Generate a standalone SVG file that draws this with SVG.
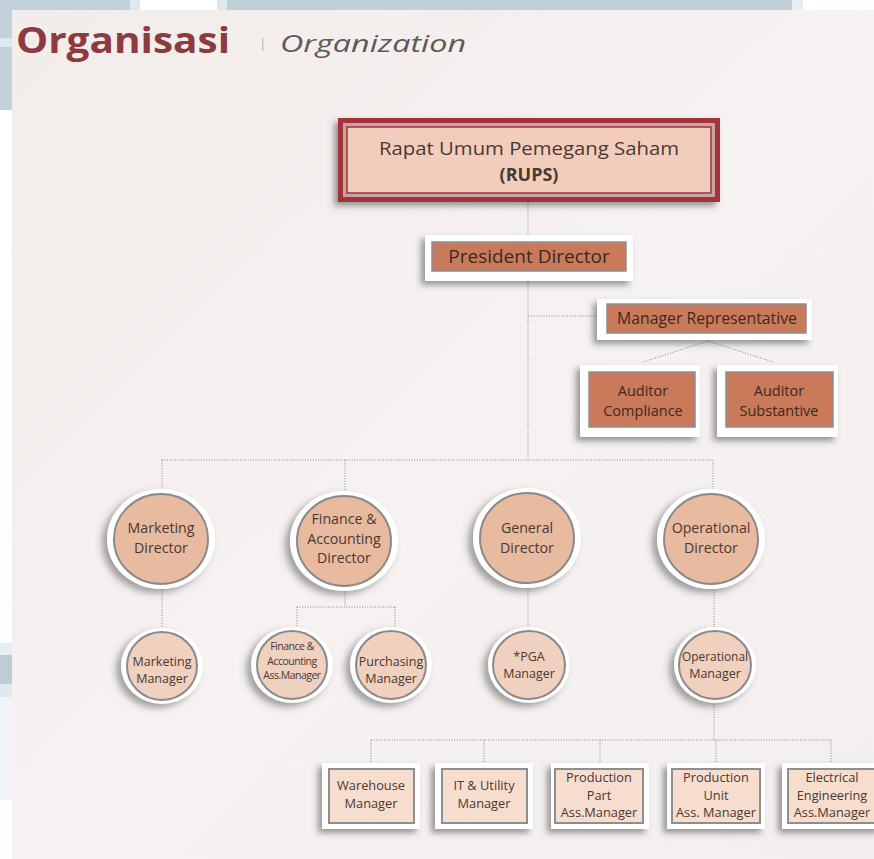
<svg xmlns="http://www.w3.org/2000/svg" width="874" height="859" viewBox="0 0 874 859">
  <defs>
    <filter id="sh" x="-30%" y="-30%" width="160%" height="170%">
      <feDropShadow dx="-4" dy="4" stdDeviation="3" flood-color="#4a4a4a" flood-opacity="0.55"/>
    </filter>
    <filter id="shc" x="-30%" y="-30%" width="160%" height="170%">
      <feDropShadow dx="-5" dy="4" stdDeviation="3.5" flood-color="#4a4a4a" flood-opacity="0.5"/>
    </filter>
    <linearGradient id="paper" x1="0" y1="0" x2="1" y2="1">
      <stop offset="0" stop-color="#f2ecea"/>
      <stop offset="0.5" stop-color="#f6f2f1"/>
      <stop offset="1" stop-color="#f3efee"/>
    </linearGradient>
  </defs>
  <style>
    .dot { stroke: #858585; stroke-width: 1; stroke-dasharray: 1 1.6; fill: none; }
    .t { font-family: "Open Sans", "Noto Sans", sans-serif; text-anchor: middle; fill: #4a3833; }
    .tb { fill: #3e2820; }
    .frame { fill: #ffffff; filter: url(#sh); }
    .ob { fill: #c87a5b; stroke: #8e8e8e; stroke-width: 1.5; }
    .lb { fill: #f7ddcd; stroke: #8e8e8e; stroke-width: 2; }
    .ring { fill: #ffffff; filter: url(#shc); }
    .dir { fill: #e8ba9f; stroke: #8a8a8a; stroke-width: 2; }
    .mgr { fill: #f0d0be; stroke: #8a8a8a; stroke-width: 2; }
    .sa { font-size: 14.5px; }
    .sd { font-size: 14.2px; }
    .sm { font-size: 12.5px; }
    .sb { font-size: 12.8px; }
    .s11 { font-size: 10.5px; letter-spacing: -0.5px; }
  </style>

  <!-- page edges and paper -->
  <rect x="0" y="0" width="874" height="859" fill="#ffffff"/>
  <rect x="0" y="0" width="130" height="10" fill="#c1d2da"/>
  <rect x="130" y="0" width="10" height="10" fill="#dfe8ee"/>
  <rect x="217" y="0" width="10" height="10" fill="#dfe8ee"/>
  <rect x="227" y="0" width="565" height="10" fill="#bfd0d8"/>
  <rect x="792" y="0" width="11" height="10" fill="#e6eef3"/>
  <rect x="0" y="10" width="12" height="100" fill="#c1d2da"/>
  <rect x="0" y="38" width="12" height="9" fill="#dfe8ee"/>
  <rect x="0" y="643" width="12" height="54" fill="#bccdd5"/>
  <rect x="0" y="643" width="12" height="12" fill="#e6eef4"/>
  <rect x="0" y="684" width="12" height="13" fill="#dfe8ee"/>
  <rect x="0" y="697" width="12" height="103" fill="#f1f4f8"/>
  <rect x="12" y="10" width="862" height="849" fill="url(#paper)"/>

  <!-- heading -->
  <g id="title">
    <text x="16" y="53" font-family="'Open Sans', 'Noto Sans', sans-serif" font-weight="700" font-size="35" fill="#8d3a40" textLength="214" lengthAdjust="spacingAndGlyphs">Organisasi</text>
    <rect x="262" y="38" width="1.5" height="13" fill="#c9c2c0"/>
    <text x="280" y="52" font-family="'Open Sans', 'Noto Sans', sans-serif" font-style="italic" font-size="24" fill="#5d5a5a" textLength="186" lengthAdjust="spacingAndGlyphs">Organization</text>
  </g>

  <!-- connectors -->
  <g id="connectors">
    <path class="dot" d="M528 202 V237"/>
    <path class="dot" d="M528 281 V460"/>
    <path class="dot" d="M528 316 H598"/>
    <path class="dot" d="M708 341 L643 362 M708 341 L773 362"/>
    <path class="dot" d="M162 460 H713"/>
    <path class="dot" d="M162 460 V488 M345 460 V490 M713 460 V489"/>
    <path class="dot" d="M162 589 V629"/>
    <path class="dot" d="M345 589 V607 M297 607 H395 M297 607 V628 M395 607 V628"/>
    <path class="dot" d="M528 588 V628"/>
    <path class="dot" d="M714 590 V628"/>
    <path class="dot" d="M714 704 V740"/>
    <path class="dot" d="M371 740 H831"/>
    <path class="dot" d="M371 740 V764 M484 740 V764 M600 740 V764 M716 740 V764 M831 740 V764"/>
  </g>

  <!-- top: general meeting of shareholders -->
  <g id="rups">
    <rect x="338" y="118" width="382" height="84" fill="#a3313b" filter="url(#sh)"/>
    <rect x="343" y="123" width="372" height="74" fill="#c5a4a4"/>
    <rect x="347" y="127" width="364" height="66" fill="#f2cdbb" stroke="#a3313b" stroke-width="1.5"/>
    <text class="t" x="529" y="155" font-size="18.5" textLength="300" lengthAdjust="spacingAndGlyphs">Rapat Umum Pemegang Saham</text>
    <text class="t" x="529" y="180.5" font-size="18" font-weight="700">(RUPS)</text>
  </g>

  <g id="president-director">
    <rect class="frame" x="425" y="235" width="208" height="46"/>
    <rect class="ob" x="432" y="242" width="194" height="29"/>
    <text class="t tb" x="529" y="263" font-size="19">President Director</text>
  </g>

  <g id="manager-representative">
    <rect class="frame" x="597" y="299" width="215" height="41"/>
    <rect class="ob" x="607" y="304" width="199" height="29"/>
    <text class="t tb" x="707" y="324" font-size="15.8">Manager Representative</text>
  </g>

  <g id="auditor-compliance">
    <rect class="frame" x="580" y="365" width="120" height="72"/>
    <rect class="ob" x="589" y="372" width="106" height="55"/>
    <text class="t tb sa" x="643" y="396">Auditor</text>
    <text class="t tb sa" x="643" y="416">Compliance</text>
  </g>

  <g id="auditor-substantive">
    <rect class="frame" x="717" y="365" width="121" height="72"/>
    <rect class="ob" x="726" y="372" width="107" height="55"/>
    <text class="t tb sa" x="779" y="396">Auditor</text>
    <text class="t tb sa" x="779" y="416">Substantive</text>
  </g>

  <!-- directors -->
  <g id="marketing-director">
    <ellipse class="ring" cx="161" cy="539" rx="54" ry="50"/>
    <ellipse class="dir" cx="161" cy="539" rx="47" ry="45"/>
    <text class="t sd" x="161" y="533">Marketing</text>
    <text class="t sd" x="161" y="552.5">Director</text>
  </g>

  <g id="finance-accounting-director">
    <ellipse class="ring" cx="344" cy="541" rx="54" ry="50"/>
    <ellipse class="dir" cx="344" cy="541" rx="47" ry="45"/>
    <text class="t sd" x="344" y="524">Finance &amp;</text>
    <text class="t sd" x="344" y="543.5">Accounting</text>
    <text class="t sd" x="344" y="563">Director</text>
  </g>

  <g id="general-director">
    <ellipse class="ring" cx="527" cy="538" rx="54" ry="50"/>
    <ellipse class="dir" cx="527" cy="538" rx="47" ry="45"/>
    <text class="t sd" x="527" y="533">General</text>
    <text class="t sd" x="527" y="552.5">Director</text>
  </g>

  <g id="operational-director">
    <ellipse class="ring" cx="711" cy="539" rx="54" ry="50"/>
    <ellipse class="dir" cx="711" cy="539" rx="47" ry="45"/>
    <text class="t sd" x="711" y="533">Operational</text>
    <text class="t sd" x="711" y="552.5">Director</text>
  </g>

  <!-- managers -->
  <g id="marketing-manager">
    <ellipse class="ring" cx="162" cy="666" rx="41" ry="38"/>
    <ellipse class="mgr" cx="162" cy="666" rx="35" ry="34"/>
    <text class="t sm" x="162" y="666">Marketing</text>
    <text class="t sm" x="162" y="683">Manager</text>
  </g>

  <g id="finance-accounting-ass-manager">
    <ellipse class="ring" cx="292" cy="665" rx="41" ry="38"/>
    <ellipse class="mgr" cx="292" cy="665" rx="35" ry="34"/>
    <text class="t s11" x="292" y="650">Finance &amp;</text>
    <text class="t s11" x="292" y="664.5">Accounting</text>
    <text class="t s11" x="292" y="679">Ass.Manager</text>
  </g>

  <g id="purchasing-manager">
    <ellipse class="ring" cx="391" cy="665" rx="41" ry="38"/>
    <ellipse class="mgr" cx="391" cy="665" rx="35" ry="34"/>
    <text class="t sm" x="391" y="666">Purchasing</text>
    <text class="t sm" x="391" y="683">Manager</text>
  </g>

  <g id="pga-manager">
    <ellipse class="ring" cx="529" cy="665" rx="41" ry="38"/>
    <ellipse class="mgr" cx="529" cy="665" rx="36" ry="34"/>
    <text class="t sm" x="529" y="661">*PGA</text>
    <text class="t sm" x="529" y="678">Manager</text>
  </g>

  <g id="operational-manager">
    <ellipse class="ring" cx="715" cy="665" rx="41" ry="38"/>
    <ellipse class="mgr" cx="715" cy="665" rx="36" ry="34"/>
    <text class="t sm" x="715" y="661" textLength="66" lengthAdjust="spacingAndGlyphs">Operational</text>
    <text class="t sm" x="715" y="678">Manager</text>
  </g>

  <!-- operational sub-units -->
  <g id="warehouse-manager">
    <rect class="frame" x="322" y="763" width="98" height="66"/>
    <rect class="lb" x="329" y="769" width="85" height="54"/>
    <text class="t sb" x="371" y="790">Warehouse</text>
    <text class="t sb" x="371" y="808">Manager</text>
  </g>

  <g id="it-utility-manager">
    <rect class="frame" x="435" y="763" width="98" height="66"/>
    <rect class="lb" x="442" y="769" width="85" height="54"/>
    <text class="t sb" x="484" y="790">IT &amp; Utility</text>
    <text class="t sb" x="484" y="808">Manager</text>
  </g>

  <g id="production-part-ass-manager">
    <rect class="frame" x="551" y="763" width="98" height="66"/>
    <rect class="lb" x="555" y="769" width="88" height="54"/>
    <text class="t sb" x="599" y="782">Production</text>
    <text class="t sb" x="599" y="799.5">Part</text>
    <text class="t sb" x="599" y="817">Ass.Manager</text>
  </g>

  <g id="production-unit-ass-manager">
    <rect class="frame" x="667" y="763" width="98" height="66"/>
    <rect class="lb" x="672" y="769" width="88" height="54"/>
    <text class="t sb" x="716" y="782">Production</text>
    <text class="t sb" x="716" y="799.5">Unit</text>
    <text class="t sb" x="716" y="817">Ass. Manager</text>
  </g>

  <g id="electrical-engineering-ass-manager">
    <rect class="frame" x="782" y="763" width="100" height="66"/>
    <rect class="lb" x="788" y="769" width="90" height="54"/>
    <text class="t sb" x="832" y="782">Electrical</text>
    <text class="t sb" x="832" y="799.5">Engineering</text>
    <text class="t sb" x="832" y="817">Ass.Manager</text>
  </g>
</svg>
